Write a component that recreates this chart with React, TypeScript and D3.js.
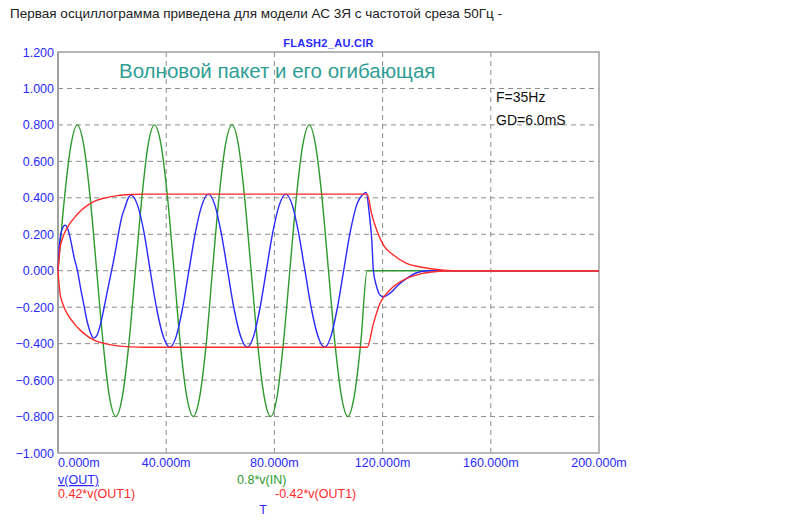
import React from "react";
import * as d3 from "d3";

// ---- Data (time in ms, values in volts) ----
const xTicks = [0, 40, 80, 120, 160, 200];
const yTicks = [1.2, 1.0, 0.8, 0.6, 0.4, 0.2, 0.0, -0.2, -0.4, -0.6, -0.8, -1.0];

// 0.8*v(IN) : 35 Hz burst, 4 periods
const inT = [
  0, 2.4, 4.8, 7.1, 9.5, 11.9, 14.3, 16.7, 19.0, 21.4, 23.8, 26.2,
  28.6, 31.0, 33.3, 35.7, 38.1, 40.5, 42.9, 45.2, 47.6, 50.0, 52.4, 54.8,
  57.1, 59.5, 61.9, 64.3, 66.7, 69.0, 71.4, 73.8, 76.2, 78.6, 81.0, 83.3,
  85.7, 88.1, 90.5, 92.9, 95.2, 97.6, 100.0, 102.4, 104.8, 107.1, 109.5, 111.9,
  114.3, 200,
];
const inV = [
  0, 0.4, 0.69, 0.8, 0.69, 0.4, 0, -0.4, -0.69, -0.8, -0.69, -0.4,
  0, 0.4, 0.69, 0.8, 0.69, 0.4, 0, -0.4, -0.69, -0.8, -0.69, -0.4,
  0, 0.4, 0.69, 0.8, 0.69, 0.4, 0, -0.4, -0.69, -0.8, -0.69, -0.4,
  0, 0.4, 0.69, 0.8, 0.69, 0.4, 0, -0.4, -0.69, -0.8, -0.69, -0.4,
  0, 0,
];

// v(OUT)
const outT = [
  0, 0.3, 0.8, 1.6, 2.6, 3.6, 4.8, 6.0, 7.2, 8.4, 9.6, 10.8, 12.0, 13.2,
  14.4, 15.6, 16.8, 18.0, 19.8, 21.0, 22.3, 23.5, 24.8, 26.0,
  27.0, 29.4, 31.8, 34.1, 36.5, 38.9, 41.3, 43.7, 46.0, 48.4, 50.8, 53.2,
  55.6, 58.0, 60.3, 62.7, 65.1, 67.5, 69.9, 72.3, 74.6, 77.0, 79.4, 81.8,
  84.2, 86.6, 88.9, 91.3, 93.7, 96.1, 98.5, 100.9, 103.2, 105.6, 108.0, 110.4,
  112.8, 113.9, 115.1, 116.0, 116.6, 117.8, 119.0, 120.3, 122.7, 125.8, 128.9, 132.6,
  137.0, 200,
];
const outV = [
  0, 0.1, 0.18, 0.23, 0.25, 0.23, 0.16, 0.07, 0, -0.1, -0.19, -0.28, -0.34, -0.37,
  -0.355, -0.3, -0.22, -0.13, 0, 0.09, 0.2, 0.29, 0.35, 0.4,
  0.415, 0.36, 0.21, 0, -0.21, -0.36, -0.42, -0.36, -0.21, 0, 0.21, 0.36,
  0.42, 0.36, 0.21, 0, -0.21, -0.36, -0.42, -0.36, -0.21, 0, 0.21, 0.36,
  0.42, 0.36, 0.21, 0, -0.21, -0.36, -0.42, -0.36, -0.21, 0, 0.21, 0.36,
  0.42, 0.43, 0.31, 0.17, 0, -0.088, -0.133, -0.143, -0.124, -0.078, -0.042, -0.011,
  0, 0,
];

// 0.42*v(OUT1)
const envUpT = [0, 0.7, 1.5, 2.5, 4.0, 6.0, 8.5, 11.0, 14.0, 17.5, 22.0, 27.0, 32.0, 114.3, 115.9, 117.8, 120.3, 124.0, 128.9, 135.0, 141.0, 146.0, 200];
const envUpV = [0, 0.12, 0.17, 0.21, 0.25, 0.29, 0.33, 0.36, 0.385, 0.4, 0.412, 0.418, 0.42, 0.42, 0.315, 0.223, 0.141, 0.086, 0.04, 0.018, 0.005, 0, 0];

// -0.42*v(OUT1)
const envLoT = [0, 0.7, 1.5, 2.5, 4.0, 6.0, 8.5, 11.0, 14.0, 17.5, 22.0, 27.0, 32.0, 114.3, 116.6, 119.0, 122.7, 128.9, 135.0, 141.0, 146.0, 200];
const envLoV = [0, -0.12, -0.17, -0.21, -0.25, -0.29, -0.33, -0.36, -0.385, -0.4, -0.412, -0.418, -0.42, -0.42, -0.29, -0.18, -0.106, -0.042, -0.014, -0.003, 0, 0];

const W = 788;
const H = 528;
const L = 58, R = 599, T = 52, B = 453;
const FONT = "'Liberation Sans', Arial, sans-serif";

const zip = (a: number[], b: number[]) => a.map((t, i) => [t, b[i]] as [number, number]);

export default function App() {
  const x = d3.scaleLinear().domain([0, 200]).range([L, R]);
  const y = d3.scaleLinear().domain([-1, 1.2]).range([B, T]);
  const line = d3
    .line<[number, number]>()
    .x((d) => x(d[0]))
    .y((d) => y(d[1]))
    .curve(d3.curveMonotoneX);

  const fmtY = d3.format(".3f");

  return (
    <svg
      width={W}
      height={H}
      style={{ position: "absolute", left: 0, top: 0, background: "#fff" }}
      fontFamily={FONT}
    >
      <rect x={0} y={0} width={W} height={H} fill="#fff" />
      <text x={10} y={18} fontSize={13.5} fill="#222" textLength={492} lengthAdjust="spacingAndGlyphs">
        Первая осциллограмма приведена для модели АС 3Я с частотой среза 50Гц -
      </text>
      <text x={(L + R) / 2} y={47} fontSize={11} fill="#2a2aff" textAnchor="middle" fontWeight="bold" letterSpacing={0.3}>
        FLASH2_AU.CIR
      </text>

      {/* grid */}
      {yTicks.slice(1, -1).map((v) => (
        <line key={"h" + v} x1={L} x2={R} y1={y(v)} y2={y(v)} stroke="#8c8c8c" strokeDasharray="5,4" strokeWidth={1} />
      ))}
      {xTicks.slice(1, -1).map((t) => (
        <line key={"v" + t} x1={x(t)} x2={x(t)} y1={T} y2={B} stroke="#8c8c8c" strokeDasharray="5,4" strokeWidth={1} />
      ))}

      {/* frame */}
      <rect x={L} y={T} width={R - L} height={B - T} fill="none" stroke="#a0a0a0" strokeWidth={1.5} />
      <line x1={L} x2={L} y1={T} y2={B} stroke="#a0a0a0" strokeWidth={2} />

      {/* axis labels */}
      {yTicks.map((v) => (
        <text key={"yl" + v} x={L - 4} y={y(v) + 4.5} fontSize={12.5} fill="#2a2aff" textAnchor="end">
          {fmtY(v)}
        </text>
      ))}
      {xTicks.map((t, i) => (
        <text
          key={"xl" + t}
          x={i === 0 ? L : x(t)}
          y={467}
          fontSize={12.5}
          fill="#2a2aff"
          textAnchor={i === 0 ? "start" : "middle"}
        >
          {t.toFixed(3) + "m"}
        </text>
      ))}

      {/* annotations */}
      <text x={119} y={78} fontSize={20.5} fill="#2e9e94">
        Волновой пакет и его огибающая
      </text>
      <text x={496} y={102} fontSize={14} fill="#111">F=35Hz</text>
      <text x={496} y={125} fontSize={14} fill="#111">GD=6.0mS</text>

      {/* curves */}
      <path d={line(zip(inT, inV)) || ""} fill="none" stroke="#2e9a2e" strokeWidth={1.4} />
      <path d={line(zip(outT, outV)) || ""} fill="none" stroke="#2a2aff" strokeWidth={1.4} />
      <path d={line(zip(envUpT, envUpV)) || ""} fill="none" stroke="#ff2a2a" strokeWidth={1.4} />
      <path d={line(zip(envLoT, envLoV)) || ""} fill="none" stroke="#ff2a2a" strokeWidth={1.4} />

      {/* legend */}
      <text x={58} y={484} fontSize={12.5} fill="#2a2aff" textDecoration="underline">v(OUT)</text>
      <text x={237} y={484} fontSize={12.5} fill="#2e9a2e">0.8*v(IN)</text>
      <text x={58} y={498} fontSize={12.5} fill="#ff2a2a">0.42*v(OUT1)</text>
      <text x={275} y={498} fontSize={12.5} fill="#ff2a2a">-0.42*v(OUT1)</text>
      <text x={263} y={514} fontSize={12.5} fill="#2a2aff" textAnchor="middle">T</text>
    </svg>
  );
}
